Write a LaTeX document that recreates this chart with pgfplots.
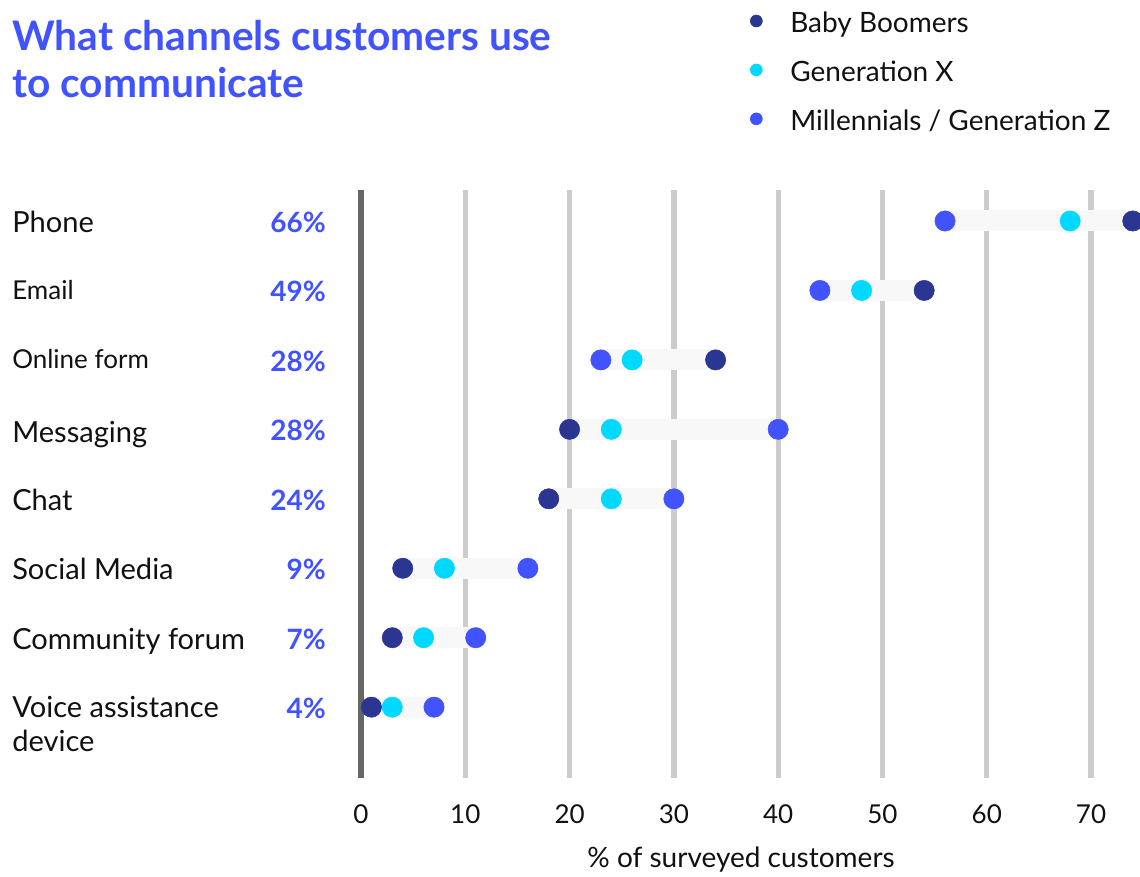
\documentclass[border=0pt]{standalone}
\usepackage{fontspec}
\setmainfont{Lato}
\usepackage{pgfplots}
\pgfplotsset{compat=1.18}
\definecolor{boomer}{HTML}{2B3592}
\definecolor{genx}{HTML}{00D9FF}
\definecolor{mill}{HTML}{4152FF}
\definecolor{gridc}{HTML}{CCCCCC}
\definecolor{axisc}{HTML}{666666}
\definecolor{bandc}{HTML}{F8F8F8}
\definecolor{txt}{HTML}{111111}
\begin{document}
\begin{tikzpicture}[x=0.75pt,y=-0.75pt]
\path[use as bounding box] (0,0) rectangle (1140,876);
\coordinate (O) at (361,778);
\begin{axis}[
  at={(O)}, anchor=south west,
  scale only axis, width=584.3pt, height=441pt,
  xmin=0, xmax=74.7, ymin=-8.02, ymax=0.446,
  clip=false,
  axis line style={draw=none},
  ytick=\empty,
  xtick={10,20,...,70},
  extra x ticks={0},
  major tick length=0pt,
  xmajorgrids=true,
  major grid style={gridc, line width=4pt},
  extra x tick style={xmajorgrids=true, major grid style={axisc, line width=4.5pt}},
  /pgf/number format/assume math mode=true,
  xticklabel style={anchor=base, yshift=-33.75pt, font=\fontsize{19.5}{22}\selectfont, text=txt},
  legend style={at={(0.4994,1.2981)}, anchor=north west, draw=none, fill=none,
    inner sep=0pt, outer sep=0pt, row sep=19pt,
    nodes={inner sep=0pt, text height=13pt, text depth=4pt, font=\fontsize{21}{24}\selectfont, text=txt}},
  legend cell align=left,
  legend image code/.code={\fill[#1] (4.5pt,4.5pt) circle (4.5pt); \path[draw=none, fill=none] (0pt,0pt) rectangle (30pt,1pt);},
]
% background bands (min to max per channel)
\addplot[bandc, line width=15.75pt, forget plot] coordinates {(56,0) (74,0)};
\addplot[bandc, line width=15.75pt, forget plot] coordinates {(44,-1) (54,-1)};
\addplot[bandc, line width=15.75pt, forget plot] coordinates {(23,-2) (34,-2)};
\addplot[bandc, line width=15.75pt, forget plot] coordinates {(20,-3) (40,-3)};
\addplot[bandc, line width=15.75pt, forget plot] coordinates {(18,-4) (30,-4)};
\addplot[bandc, line width=15.75pt, forget plot] coordinates {(4,-5) (16,-5)};
\addplot[bandc, line width=15.75pt, forget plot] coordinates {(3,-6) (11,-6)};
\addplot[bandc, line width=15.75pt, forget plot] coordinates {(1,-7) (7,-7)};
% Baby Boomers
\addplot[only marks, mark=*, mark size=7.6pt, color=boomer] coordinates {
(74,0) (54,-1) (34,-2) (20,-3) (18,-4) (4,-5) (3,-6) (1,-7)};
\addlegendentry{Baby Boomers}
% Generation X
\addplot[only marks, mark=*, mark size=7.6pt, color=genx] coordinates {
(68,0) (48,-1) (26,-2) (24,-3) (24,-4) (8,-5) (6,-6) (3,-7)};
\addlegendentry{Generation X}
% Millennials / Gen Z
\addplot[only marks, mark=*, mark size=7.6pt, color=mill] coordinates {
(56,0) (44,-1) (23,-2) (40,-3) (30,-4) (16,-5) (11,-6) (7,-7)};
\addlegendentry{Millennials / Generation Z}
\end{axis}
% title
\node[anchor=base west, inner sep=0pt, text=mill, font=\fontsize{30.5}{36}\selectfont\bfseries] at (12,50) {What channels customers use};
\node[anchor=base west, inner sep=0pt, text=mill, font=\fontsize{30.5}{36}\selectfont\bfseries] at (12,97) {to communicate};
% category labels
\begin{scope}[every node/.style={anchor=base west, inner sep=0pt, text=txt, font=\fontsize{21.8}{24}\selectfont}]
\node at (12,232) {Phone};
\node[font=\fontsize{19.5}{22}\selectfont] at (12,299) {Email};
\node[font=\fontsize{19.5}{22}\selectfont] at (12,368) {Online form};
\node at (12,442) {Messaging};
\node at (12,510) {Chat};
\node at (12,579) {Social Media};
\node at (12,649) {Community forum};
\node at (12,717) {Voice assistance};
\node at (12,751) {device};
\end{scope}
% overall percentages
\begin{scope}[every node/.style={anchor=base east, inner sep=0pt, text=mill, font=\fontsize{21}{24}\selectfont\bfseries}]
\node at (326,232) {66\%};
\node at (326,301) {49\%};
\node at (326,371) {28\%};
\node at (326,440) {28\%};
\node at (326,510) {24\%};
\node at (326,579) {9\%};
\node at (326,649) {7\%};
\node at (326,718) {4\%};
\end{scope}
% x axis label
\node[anchor=base, inner sep=0pt, text=txt, font=\fontsize{21}{24}\selectfont] at (741,867) {\% of surveyed customers};
\end{tikzpicture}
\end{document}
